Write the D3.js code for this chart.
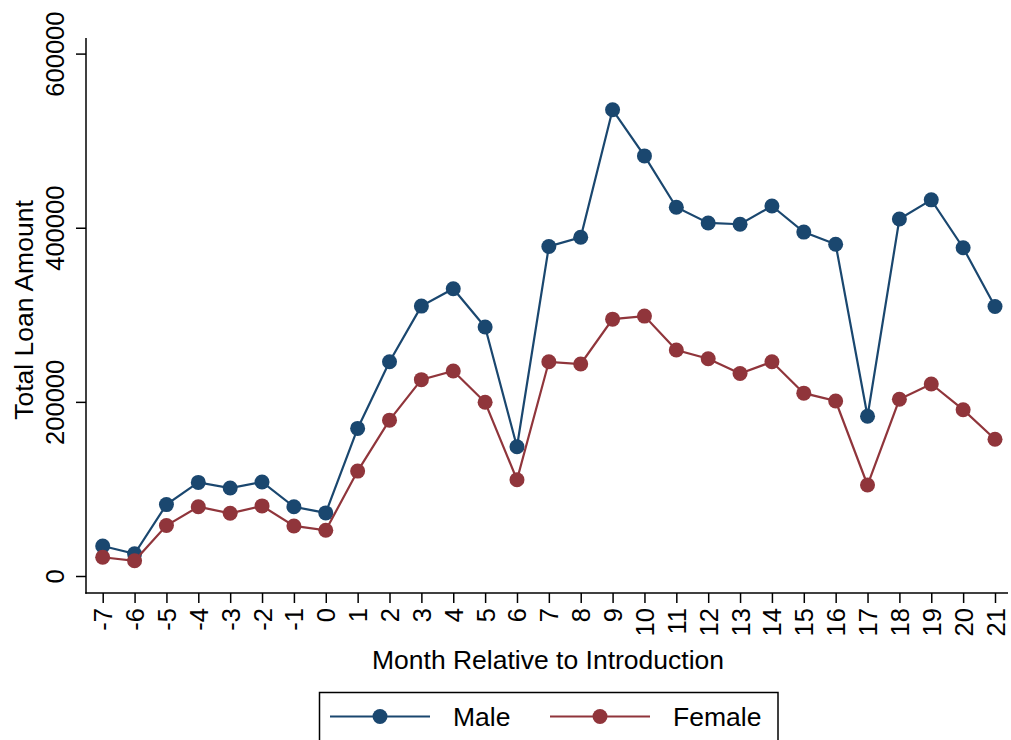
<!DOCTYPE html>
<html>
<head>
<meta charset="utf-8">
<script src="https://cdn.jsdelivr.net/npm/d3@7"></script>
<style>
  body { margin: 0; background: #fff; }
  svg { font-family: "Liberation Sans", Arial, sans-serif; }
</style>
</head>
<body>
<svg id="chart" width="1011" height="740"></svg>
<script>
// Data
var months = [-7, -6, -5, -4, -3, -2, -1, 0, 1, 2, 3, 4, 5, 6, 7, 8, 9, 10, 11, 12, 13, 14, 15, 16, 17, 18, 19, 20, 21];
var male = [34500, 25500, 82000, 107500, 101000, 108000, 79500, 72500, 169500, 246000, 310000, 330000, 286000, 148500, 378500, 389000, 535500, 482500, 423500, 405500, 404000, 425000, 395000, 381000, 183500, 410000, 432000, 377000, 309500];
var female = [21500, 17500, 58000, 79500, 72000, 80500, 57500, 52500, 120500, 179000, 225500, 235500, 199500, 110500, 246000, 243500, 295000, 298500, 259500, 249500, 232500, 246000, 210000, 201000, 104500, 203000, 220500, 191000, 157000];
var yTicks = [0, 200000, 400000, 600000];
var seriesNames = ["Male", "Female"];
var seriesColors = ["#1a476f", "#90353b"];

var svg = d3.select("#chart");

// Scales
var x = d3.scaleLinear().domain([-7, 21]).range([102.7, 995]);
var y = d3.scaleLinear().domain([0, 600000]).range([576, 53.6]);

// Axis lines (Stata style: extend past the data range)
svg.append("line")
    .attr("x1", 86).attr("x2", 86).attr("y1", 38).attr("y2", 593.7)
    .attr("stroke", "#000").attr("stroke-width", 1.5);
svg.append("line")
    .attr("x1", 85.3).attr("x2", 1008).attr("y1", 593).attr("y2", 593)
    .attr("stroke", "#000").attr("stroke-width", 1.5);

// Y axis, labels rotated like the original
var yAxis = svg.append("g")
    .attr("transform", "translate(86,0)")
    .call(d3.axisLeft(y).tickValues(yTicks).tickSize(10).tickFormat(String));
yAxis.select(".domain").remove();
yAxis.selectAll("line").attr("stroke-width", 1.5);
yAxis.selectAll("text")
    .attr("font-size", 25.5)
    .attr("font-family", "Liberation Sans, Arial, sans-serif")
    .attr("fill", "#000")
    .attr("text-anchor", "middle")
    .attr("x", 0).attr("y", 0).attr("dy", null)
    .attr("transform", "translate(-22,0) rotate(-90)");

// X axis
var xAxis = svg.append("g")
    .attr("transform", "translate(0,593)")
    .call(d3.axisBottom(x).tickValues(months).tickSize(10).tickFormat(String));
xAxis.select(".domain").remove();
xAxis.selectAll("line").attr("stroke-width", 1.5);
xAxis.selectAll("text")
    .attr("font-size", 25.5)
    .attr("font-family", "Liberation Sans, Arial, sans-serif")
    .attr("fill", "#000")
    .attr("text-anchor", "end")
    .attr("x", 0).attr("y", 0).attr("dy", null)
    .attr("transform", "translate(9,15) rotate(-90)");

// Axis titles
svg.append("text")
    .attr("transform", "translate(33,310) rotate(-90)")
    .attr("text-anchor", "middle")
    .attr("font-size", 26.5)
    .text("Total Loan Amount");
svg.append("text")
    .attr("x", 548).attr("y", 669)
    .attr("text-anchor", "middle")
    .attr("font-size", 26.5)
    .text("Month Relative to Introduction");

// Lines and markers
var line = d3.line()
    .x(function(d){ return x(d.m); })
    .y(function(d){ return y(d.v); });

[male, female].forEach(function(vals, i){
    var pts = months.map(function(m, j){ return { m: m, v: vals[j] }; });
    svg.append("path")
        .datum(pts)
        .attr("fill", "none")
        .attr("stroke", seriesColors[i])
        .attr("stroke-width", 2.2)
        .attr("d", line);
    svg.selectAll(".dot" + i)
        .data(pts)
        .enter().append("circle")
        .attr("class", "dot" + i)
        .attr("cx", function(d){ return x(d.m); })
        .attr("cy", function(d){ return y(d.v); })
        .attr("r", 7.5)
        .attr("fill", seriesColors[i]);
});

// Legend
var legend = svg.append("g");
legend.append("rect")
    .attr("x", 319.5).attr("y", 692.5)
    .attr("width", 458.5).attr("height", 60)
    .attr("fill", "#fff").attr("stroke", "#000").attr("stroke-width", 1.5);
var legX = [330, 550];
seriesNames.forEach(function(name, i){
    var lx = legX[i];
    legend.append("line")
        .attr("x1", lx).attr("x2", lx + 100).attr("y1", 716.5).attr("y2", 716.5)
        .attr("stroke", seriesColors[i]).attr("stroke-width", 2.2);
    legend.append("circle")
        .attr("cx", lx + 50).attr("cy", 716.5).attr("r", 7.5)
        .attr("fill", seriesColors[i]);
    legend.append("text")
        .attr("x", lx + 123).attr("y", 726)
        .attr("font-size", 26.5)
        .text(name);
});
</script>
</body>
</html>
